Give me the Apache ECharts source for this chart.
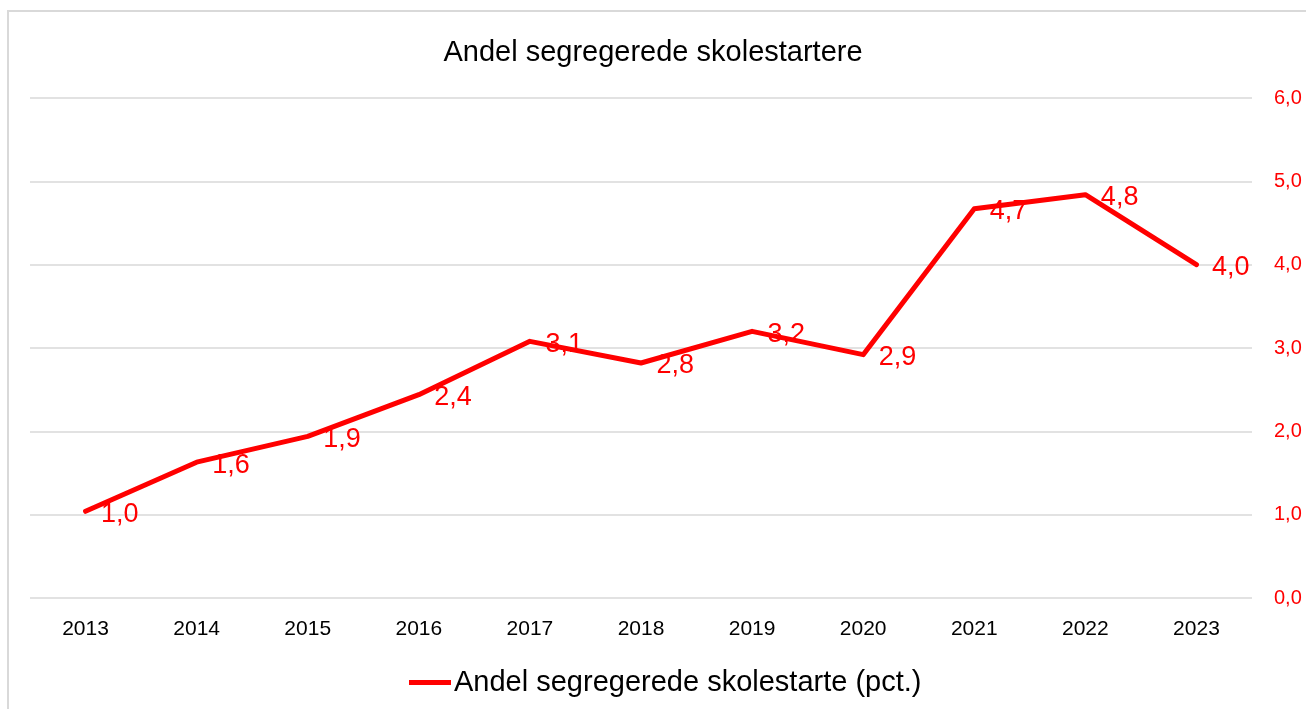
<!DOCTYPE html>
<html>
<head>
<meta charset="utf-8">
<script src="https://cdn.jsdelivr.net/npm/echarts@6/dist/echarts.min.js"></script>
<style>
  html, body { margin: 0; padding: 0; background: #fff; overflow: hidden; }
  #frame { position: absolute; left: 7px; top: 10px; width: 1320px; height: 720px; border: 2px solid #d9d9d9; }
  #main { position: absolute; left: 0; top: 0; width: 1306px; height: 709px; }
</style>
</head>
<body>
<div id="frame"></div>
<div id="main"></div>
<script>
var years = ['2013', '2014', '2015', '2016', '2017', '2018', '2019', '2020', '2021', '2022', '2023'];
var shares = [1.04, 1.63, 1.94, 2.44, 3.08, 2.82, 3.20, 2.92, 4.67, 4.84, 4.0];
var seriesName = 'Andel segregerede skolestarte (pct.)';
var titleText = 'Andel segregerede skolestartere';

var red = '#ff0000';
var font = '"Liberation Sans", Arial, sans-serif';

function comma(v) {
    return Number(v).toFixed(1).replace('.', ',');
}

var myChart = echarts.init(document.getElementById('main'), null, { renderer: 'canvas' });

var option = {
    animation: false,
    title: {
        text: titleText,
        left: 'center',
        top: 33,
        textStyle: { fontFamily: font, fontSize: 29, fontWeight: 'normal', color: '#000' }
    },
    legend: {
        data: [seriesName],
        left: 404,
        top: 663,
        itemWidth: 42,
        itemHeight: 5,
        itemGap: 4,
        icon: 'rect',
        textStyle: { fontFamily: font, fontSize: 29, color: '#000', padding: [0, 0, 0, -2] }
    },
    grid: { left: 30, right: 54, top: 98, bottom: 111, containLabel: false },
    xAxis: {
        type: 'category',
        data: years,
        boundaryGap: true,
        axisLine: { show: false },
        axisTick: { show: false },
        axisLabel: { fontFamily: font, fontSize: 21, color: '#000', margin: 21 }
    },
    yAxis: {
        type: 'value',
        position: 'right',
        min: 0,
        max: 6,
        interval: 1,
        axisLine: { show: false },
        axisTick: { show: false },
        splitLine: { lineStyle: { color: '#d9d9d9', width: 1.5 } },
        axisLabel: { fontFamily: font, fontSize: 20, color: red, margin: 22, align: 'left', formatter: comma }
    },
    series: [{
        name: seriesName,
        type: 'line',
        data: shares,
        symbol: 'circle',
        symbolSize: 1,
        itemStyle: { color: red },
        lineStyle: { color: red, width: 5, cap: 'round', join: 'round' },
        label: {
            show: true,
            position: 'right',
            distance: 15,
            offset: [0, 3],
            fontFamily: font,
            fontSize: 27,
            color: red,
            formatter: function (p) { return comma(p.value); }
        }
    }]
};

myChart.setOption(option);
window.addEventListener('resize', myChart.resize);
</script>
</body>
</html>
